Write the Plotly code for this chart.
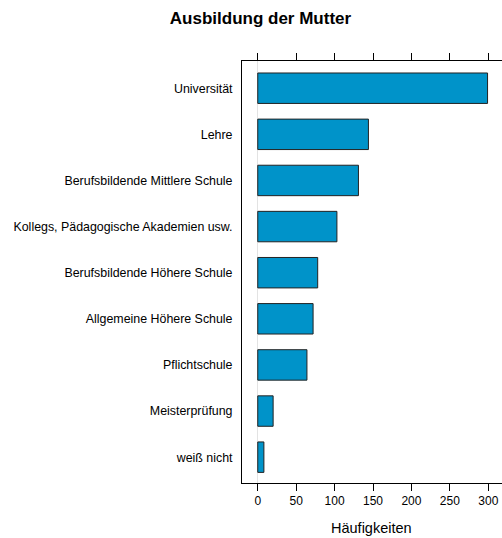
import plotly.graph_objects as go

categories = [
    "weiß nicht",
    "Meisterprüfung",
    "Pflichtschule",
    "Allgemeine Höhere Schule",
    "Berufsbildende Höhere Schule",
    "Kollegs, Pädagogische Akademien usw.",
    "Berufsbildende Mittlere Schule",
    "Lehre",
    "Universität",
]
counts = [8, 20, 64, 72, 78, 103, 131, 144, 299]
tick_values = [0, 50, 100, 150, 200, 250, 300]

W, H = 502, 538
L, T, B, R = 241.5, 61, 55, 0
PW, PH = W - L - R, H - T - B

fig = go.Figure()
fig.add_trace(go.Bar(
    x=counts, y=categories, orientation="h",
    marker=dict(color="#0093C9", line=dict(color="#222222", width=1)),
    width=0.66,
))

fig.update_layout(
    width=W, height=H,
    margin=dict(l=L, r=R, t=T, b=B, pad=0),
    paper_bgcolor="white", plot_bgcolor="white",
    font=dict(family="Liberation Sans, Arial, sans-serif", color="black", size=12),
    showlegend=False,
    title=dict(text="<b>Ausbildung der Mutter</b>", x=260.5 / W, xanchor="center",
               y=1 - 18 / H, yanchor="middle", xref="container", yref="container",
               font=dict(size=17, color="black")),
    xaxis=dict(
        range=[-20.5, 317.8], tickvals=tick_values, ticks="outside", ticklen=7,
        tickcolor="black", showline=True, linecolor="black", linewidth=1, mirror="ticks",
        showgrid=False, zeroline=True, zerolinecolor="#E3E3E3", zerolinewidth=1,
        tickfont=dict(size=12), fixedrange=True,
    ),
    yaxis=dict(
        type="category", categoryorder="array", categoryarray=categories,
        range=[-0.56, 8.59], showline=True, linecolor="black", linewidth=1, mirror=False,
        ticks="", showgrid=False, tickfont=dict(size=12.4), ticklabelstandoff=6,
    ),
    annotations=[dict(text="Häufigkeiten", x=(371.7 - L) / PW, xref="paper",
                      y=(H - B - 528) / PH, yref="paper", xanchor="center", yanchor="middle",
                      showarrow=False, font=dict(size=14.5))],
)

fig.write_html(
    "out.html",
    config={"displayModeBar": False},
    post_script="document.body.style.margin='0';document.body.style.overflow='hidden';",
)
